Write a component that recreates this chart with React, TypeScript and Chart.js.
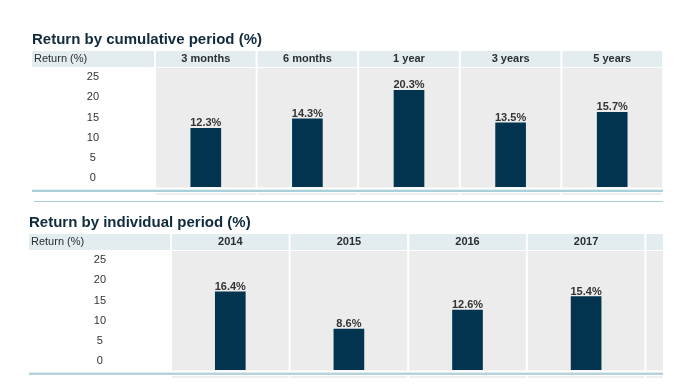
import React, { useEffect, useRef } from 'react';
import { Chart, registerables } from 'chart.js';

Chart.register(...registerables);

// ---------- data ----------
const cumulativeTitle = 'Return by cumulative period (%)';
const cumulativeCategories = ['3 months', '6 months', '1 year', '3 years', '5 years'];
const cumulativeReturns: (number | null)[] = [12.3, 14.3, 20.3, 13.5, 15.7];

const individualTitle = 'Return by individual period (%)';
const individualCategories = ['2014', '2015', '2016', '2017', ''];
const individualReturns: (number | null)[] = [16.4, 8.6, 12.6, 15.4, null];

const axisHeaderLabel = 'Return (%)';
const valueMin = 0;
const valueMax = 25;
const tickStep = 5;

// ---------- styles ----------
const FONT = "Arial, 'Liberation Sans', Helvetica, sans-serif";
const BAR_COLOR = '#02344f';
const HEADER_BG = '#e3ecef';
const PLOT_BG = '#ececec';
const TITLE_COLOR = '#0f2b3d';
const TEXT_COLOR = '#2a2f33';
const LINE_BLUE = '#a7d0db';
const LINE_LIGHT = '#e4eff2';

type Geo = {
  width: number;
  height: number;
  padLeft: number;
  padRight: number;
  padBottom: number;
  titlePadTop: number;
  titlePadBottom: number;
  axisWidth: number;
  headerHeight: number;
  tickPad: number;
  bottomLines: 'top' | 'bottom';
};

const tablePlugin = {
  id: 'tableBackground',
  beforeDraw(chart: any, _args: any, opts: any) {
    const ctx = chart.ctx;
    const xs = chart.scales.x;
    const yt = chart.scales.yt;
    const ca = chart.chartArea;
    const n = chart.data.labels.length;
    const colW = (ca.right - ca.left) / n;
    ctx.save();
    // header band
    ctx.fillStyle = HEADER_BG;
    ctx.fillRect(yt.left, xs.top, ca.left - yt.left - 1, xs.bottom - xs.top - 1);
    for (let i = 0; i < n; i++) {
      const l = ca.left + i * colW;
      ctx.fillStyle = HEADER_BG;
      ctx.fillRect(l + 1, xs.top, colW - 2, xs.bottom - xs.top - 1);
      ctx.fillStyle = PLOT_BG;
      ctx.fillRect(l + 1, ca.top, colW - 2, ca.bottom - ca.top + 0.5);
    }
    // header label of first column
    ctx.fillStyle = TEXT_COLOR;
    ctx.font = `11px ${FONT}`;
    ctx.textAlign = 'left';
    ctx.textBaseline = 'middle';
    ctx.fillText(opts.headerLabel, yt.left + 2, xs.bottom - 2 - 6.6);

    // lines below table
    const right = ca.right;
    if (opts.variant === 'top') {
      ctx.fillStyle = LINE_LIGHT;
      ctx.fillRect(yt.left, ca.bottom + 2, right - yt.left, 1);
      ctx.fillStyle = LINE_BLUE;
      ctx.fillRect(yt.left, ca.bottom + 3, right - yt.left, 2);
      ctx.fillStyle = '#eeeeee';
      for (let i = 0; i < n; i++) {
        const l = ca.left + i * colW;
        ctx.fillRect(l + 1, ca.bottom + 6, colW - 2, 2);
      }
      ctx.fillStyle = '#abcdd6';
      ctx.fillRect(yt.left + 2, ca.bottom + 14, right - yt.left - 2, 1);
    } else {
      ctx.fillStyle = '#dde9ec';
      ctx.fillRect(yt.left, ca.bottom + 2, right - yt.left, 1);
      ctx.fillStyle = '#b4d2d8';
      ctx.fillRect(yt.left, ca.bottom + 3, right - yt.left, 2);
      ctx.fillStyle = '#eeeeee';
      for (let i = 0; i < n; i++) {
        const l = ca.left + i * colW;
        ctx.fillRect(l + 1, ca.bottom + 6, colW - 2, 2);
      }
    }
    ctx.restore();
  },
  afterDatasetsDraw(chart: any) {
    const ctx = chart.ctx;
    const meta = chart.getDatasetMeta(0);
    const data = chart.data.datasets[0].data;
    ctx.save();
    ctx.font = `bold 11px ${FONT}`;
    ctx.fillStyle = '#333333';
    ctx.textAlign = 'center';
    ctx.textBaseline = 'alphabetic';
    meta.data.forEach((bar: any, i: number) => {
      const v = data[i];
      if (v == null) return;
      ctx.fillText(`${v.toFixed(1)}%`, bar.x, bar.y - 2);
    });
    ctx.restore();
  },
};

function makeChart(canvas: HTMLCanvasElement, title: string, labels: string[], values: (number | null)[], g: Geo) {
  return new Chart(canvas, {
    type: 'bar',
    data: {
      labels,
      datasets: [
        {
          data: values,
          backgroundColor: BAR_COLOR,
          borderWidth: 0,
          barThickness: 30,
          yAxisID: 'y',
          xAxisID: 'x',
        },
      ],
    },
    options: {
      responsive: false,
      animation: false,
      devicePixelRatio: 1,
      layout: { autoPadding: false, padding: { left: g.padLeft, right: g.padRight, top: 0, bottom: g.padBottom } },
      plugins: {
        legend: { display: false },
        tooltip: { enabled: false },
        title: {
          display: true,
          text: title,
          align: 'start',
          color: TITLE_COLOR,
          font: { family: FONT, size: 15, weight: 'bold' },
          padding: { top: g.titlePadTop, bottom: g.titlePadBottom },
        },
        tableBackground: { headerLabel: axisHeaderLabel, variant: g.bottomLines },
      } as any,
      scales: {
        x: {
          type: 'category',
          position: 'top',
          grid: { display: false, drawTicks: false },
          border: { display: false },
          ticks: {
            padding: 2,
            maxRotation: 0,
            autoSkip: false,
            color: TEXT_COLOR,
            font: { family: FONT, size: 11, weight: 'bold' },
          },
          afterFit: (s: any) => {
            s.height = g.headerHeight;
          },
        },
        y: {
          type: 'linear',
          display: false,
          min: valueMin,
          max: valueMax,
        },
        yt: {
          type: 'linear',
          position: 'left',
          min: valueMin - 2.2,
          max: valueMax + 2.3,
          grid: { display: false, drawTicks: false },
          border: { display: false },
          ticks: {
            stepSize: tickStep,
            includeBounds: false,
            autoSkip: false,
            crossAlign: 'center',
            padding: g.tickPad,
            color: '#333333',
            font: { family: FONT, size: 11 },
          },
          afterFit: (s: any) => {
            s.width = g.axisWidth;
            s.paddingTop = 0;
            s.paddingBottom = 0;
          },
        },
      },
    } as any,
    plugins: [tablePlugin],
  });
}

const topGeo: Geo = {
  width: 700,
  height: 205,
  padLeft: 32,
  padRight: 37,
  padBottom: 18,
  titlePadTop: 31,
  titlePadBottom: 2,
  axisWidth: 123,
  headerHeight: 17,
  tickPad: 56,
  bottomLines: 'top',
};

const bottomGeo: Geo = {
  width: 800,
  height: 182,
  padLeft: 29,
  padRight: 36,
  padBottom: 17,
  titlePadTop: 9,
  titlePadBottom: 2,
  axisWidth: 142,
  headerHeight: 17,
  tickPad: 65,
  bottomLines: 'bottom',
};

export default function App() {
  const topRef = useRef<HTMLCanvasElement | null>(null);
  const bottomRef = useRef<HTMLCanvasElement | null>(null);

  useEffect(() => {
    const c1 = makeChart(topRef.current!, cumulativeTitle, cumulativeCategories, cumulativeReturns, topGeo);
    const c2 = makeChart(bottomRef.current!, individualTitle, individualCategories, individualReturns, bottomGeo);
    return () => {
      c1.destroy();
      c2.destroy();
    };
  }, []);

  return (
    <div style={{ position: 'absolute', left: 0, top: 0, width: 700, height: 387, background: '#ffffff', overflow: 'hidden' }}>
      <canvas
        ref={topRef}
        width={topGeo.width}
        height={topGeo.height}
        style={{ position: 'absolute', left: 0, top: 0, width: topGeo.width, height: topGeo.height, display: 'block' }}
      />
      <div style={{ position: 'absolute', left: 0, top: 205, width: 663, height: bottomGeo.height, overflow: 'hidden' }}>
        <canvas
          ref={bottomRef}
          width={bottomGeo.width}
          height={bottomGeo.height}
          style={{ position: 'absolute', left: 0, top: 0, width: bottomGeo.width, height: bottomGeo.height, display: 'block' }}
        />
      </div>
    </div>
  );
}
